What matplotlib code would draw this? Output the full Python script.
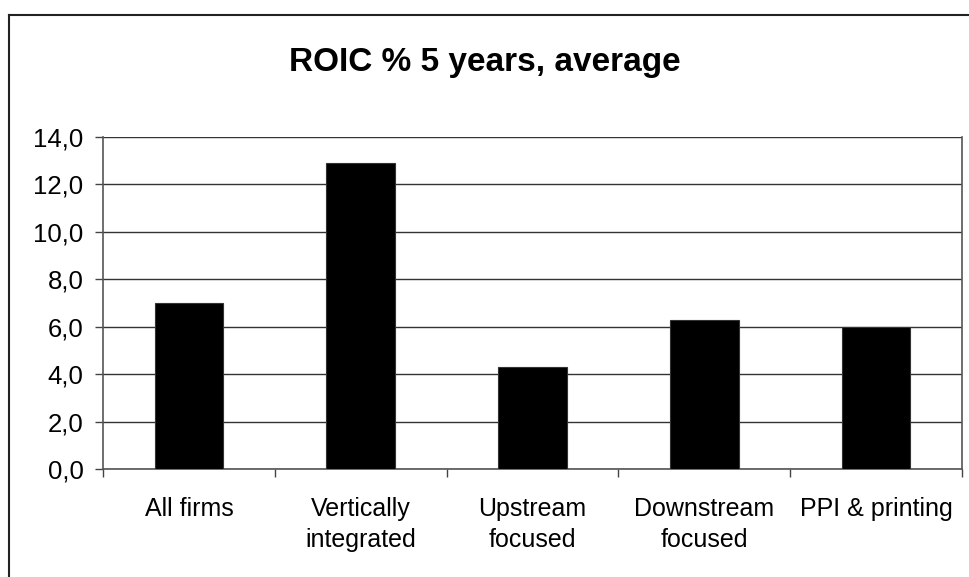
import matplotlib
matplotlib.use('Agg')
import matplotlib.pyplot as plt
from matplotlib.lines import Line2D
from matplotlib.ticker import FuncFormatter, MultipleLocator

# data
categories = ['All firms', 'Vertically\nintegrated', 'Upstream\nfocused',
              'Downstream\nfocused', 'PPI & printing']
roic = [7.0, 12.9, 4.3, 6.3, 6.0]

plt.rcParams['font.family'] = ['Liberation Sans', 'DejaVu Sans']

fig = plt.figure(figsize=(9.69, 5.77), dpi=100)
ax = fig.add_axes([103 / 969, 1 - 469 / 577, 859 / 969, 332 / 577])

pos = list(range(len(categories)))
ax.bar(pos, roic, width=0.4, color='black', edgecolor='#333333', linewidth=0.8, zorder=3)

ax.set_xlim(-0.5, len(categories) - 0.5)
ax.set_ylim(0, 14)
ax.yaxis.set_major_locator(MultipleLocator(2))
ax.yaxis.set_major_formatter(FuncFormatter(lambda v, p: f'{v:.1f}'.replace('.', ',')))
ax.grid(axis='y', color='#333333', linewidth=1.0, zorder=0)

ax.set_xticks(pos)
ax.set_xticklabels(categories, fontsize=18, linespacing=1.4)
ax.set_xticks([p + 0.5 for p in [-1] + pos], minor=True)
ax.tick_params(axis='x', which='major', length=0, pad=20)
ax.tick_params(axis='x', which='minor', length=6, width=1, color='#444444')
ax.tick_params(axis='y', length=6, width=1, color='#444444', labelsize=18.5, pad=8)

for side in ['left', 'bottom', 'right']:
    ax.spines[side].set_color('#555555')
    ax.spines[side].set_linewidth(1.2)
ax.spines['top'].set_visible(False)

fig.text(0.5, 1 - 62 / 577, 'ROIC % 5 years, average', ha='center', va='center',
         fontsize=24, fontweight='bold')

# outer chart frame (cropped at right and bottom)
fig.add_artist(Line2D([9 / 969, 9 / 969], [0, 1 - 15 / 577], color='#222222', linewidth=1.5))
fig.add_artist(Line2D([9 / 969, 1], [1 - 15 / 577, 1 - 15 / 577], color='#222222', linewidth=1.5))

fig.savefig('out.png', dpi=100)
